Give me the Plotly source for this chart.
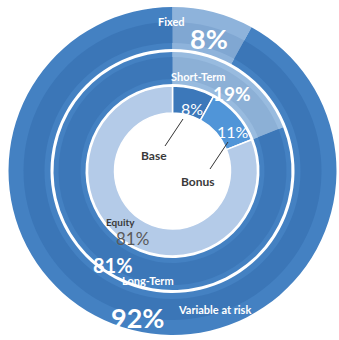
import plotly.graph_objects as go

W, H = 339, 340
CX, CY = 172.5, 171

# Data
outer_labels = ["Fixed", "Variable at risk"]
outer_values = [8, 92]
middle_labels = ["Short-Term", "Long-Term"]
middle_values = [19, 81]
inner_labels = ["Base", "Bonus", "Equity"]
inner_values = [8, 11, 81]

outer_colors = ["rgb(142,179,219)", "rgb(68,129,194)"]
outer_band = ["rgb(128,167,210)", "rgb(59,118,183)"]
middle_colors = ["rgb(152,187,223)", "rgb(68,129,194)"]
middle_band = ["rgb(140,176,214)", "rgb(60,119,184)"]
inner_colors = ["rgb(60,120,186)", "rgb(80,149,216)", "rgb(180,203,232)"]


def ring(labels, values, colors, r_out, r_in, line_w=0):
    x0 = (CX - r_out) / W
    x1 = (CX + r_out) / W
    y0 = 1 - (CY + r_out) / H
    y1 = 1 - (CY - r_out) / H
    return go.Pie(
        labels=labels, values=values, sort=False, direction="clockwise",
        rotation=0, hole=r_in / r_out, textinfo="none", hoverinfo="label+percent",
        marker=dict(colors=colors, line=dict(color="white", width=line_w)),
        domain=dict(x=[x0, x1], y=[y0, y1]), showlegend=False,
    )


fig = go.Figure()
fig.add_trace(ring(outer_labels, outer_values, outer_colors, 164, 122))
fig.add_trace(ring(outer_labels, outer_values, outer_band, 149, 128))
fig.add_trace(ring(middle_labels, middle_values, middle_colors, 119, 87))
fig.add_trace(ring(middle_labels, middle_values, middle_band, 114, 92))
fig.add_trace(ring(inner_labels, inner_values, inner_colors, 85, 58, line_w=1.5))

FONT = "Lato"


def ann(text, px, py, size, color="white", bold=False):
    t = f"<b>{text}</b>" if bold else text
    fig.add_annotation(x=px / W, y=1 - py / H, xref="paper", yref="paper",
                       text=t, showarrow=False, xanchor="center", yanchor="middle",
                       font=dict(family=FONT, size=size, color=color))


ann("Fixed", 171, 21, 11, bold=True)
ann("8%", 209, 38, 27, bold=True)
ann("Short-Term", 198, 76, 11, bold=True)
ann("19%", 232, 93, 19, bold=True)
ann("8%", 192, 108, 16)
ann("11%", 233, 131, 16)
ann("Base", 154, 156, 12, color="#3a3a3a", bold=True)
ann("Bonus", 198, 181, 12, color="#3a3a3a", bold=True)
ann("Equity", 120, 222, 10, color="#3a3a3a", bold=True)
ann("81%", 132, 239, 17, color="#5a5a5a")
ann("81%", 113, 265, 20, bold=True)
ann("Long-Term", 148, 280, 11, bold=True)
ann("92%", 137, 317, 27, bold=True)
ann("Variable at risk", 215, 309, 11, bold=True)


def leader(xa, ya, xb, yb):
    fig.add_shape(type="line", xref="paper", yref="paper",
                  x0=xa / W, y0=1 - ya / H, x1=xb / W, y1=1 - yb / H,
                  line=dict(color="#333333", width=1))


leader(165, 146, 183, 119)
leader(210, 169, 228, 142)

fig.update_layout(width=W, height=H, margin=dict(l=0, r=0, t=0, b=0),
                  paper_bgcolor="white", plot_bgcolor="white")
fig.write_html("out.html")
